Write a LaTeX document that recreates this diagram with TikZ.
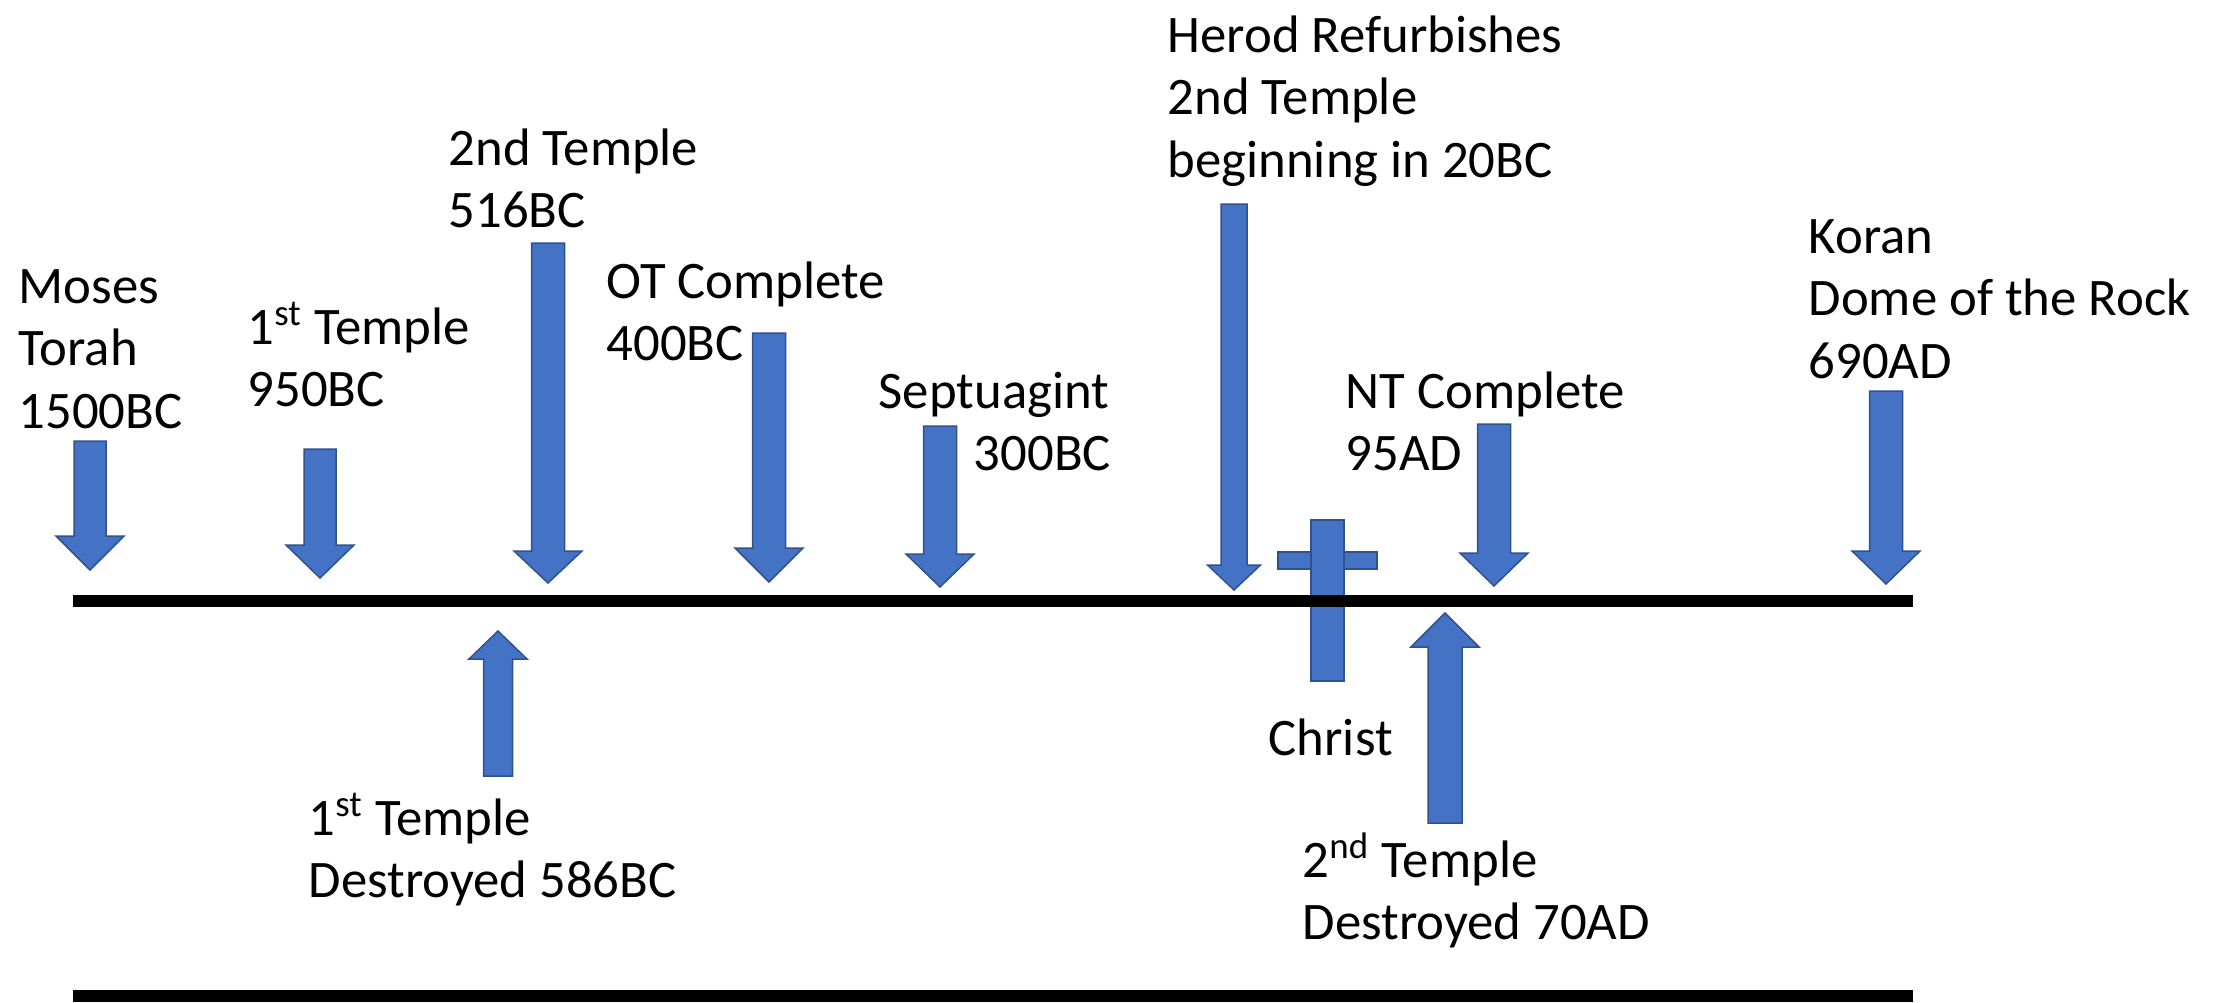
\documentclass[tikz,border=0pt]{standalone}
\usepackage{fontspec}
\setmainfont{Carlito}
\definecolor{arrfill}{HTML}{4472C4}
\definecolor{arredge}{HTML}{2F528F}
\newcommand{\lbltab}[1]{\begin{tabular}[t]{@{}l@{}}#1\end{tabular}}
% block arrow: cx, shaft end y, head base y, tip y, shaft half width, head half width
\newcommand{\blockarrow}[6]{%
  \filldraw[arrshape] ({#1-#5},#2) -- ({#1+#5},#2) -- ({#1+#5},#3) -- ({#1+#6},#3)
    -- (#1,#4) -- ({#1-#6},#3) -- ({#1-#5},#3) -- cycle;}
\begin{document}
\begin{tikzpicture}[x=0.01cm,y=-0.01cm,
  arrshape/.style={fill=arrfill,draw=arredge,line width=0.015cm,line join=miter},
  lbl/.style={anchor=base west,inner sep=0pt,font=\fontsize{15pt}{17.9pt}\selectfont},
  axis/.style={line width=0.12cm,black}]
\useasboundingbox (0,0) rectangle (2215,1002);

% down arrows
\blockarrow{90}{441}{536}{570}{16}{34}
\blockarrow{320}{449}{545}{578}{16}{34}
\blockarrow{548}{243}{551}{583}{16.5}{34}
\blockarrow{769}{333}{548}{582}{16.5}{34}
\blockarrow{940}{426}{554}{587}{16.5}{34}
\blockarrow{1234}{204}{565}{590}{13}{26.5}
\blockarrow{1494}{424}{553}{586}{16.5}{34}
\blockarrow{1886}{391}{551}{584}{16.5}{34}
% up arrows
\blockarrow{498}{776}{659}{631}{14.5}{29}
\blockarrow{1445}{823}{647}{613}{17}{34}

% cross
\filldraw[arrshape] (1278,552) rectangle (1377,569);
\filldraw[arrshape] (1311,520) rectangle (1344,681);

% timeline axes
\coordinate (a1) at (73,601);
\coordinate (a2) at (1913,601);
\coordinate (b1) at (73,996);
\coordinate (b2) at (1913,996);
\draw[axis] (a1) -- (a2);
\draw[axis] (b1) -- (b2);

% labels
\node[lbl] (moses) at (18,303) {\lbltab{Moses\\Torah\\1500BC}};
\node[lbl] (t1) at (247,344) {\lbltab{1\textsuperscript{st} Temple\\950BC}};
\node[lbl] (t2) at (448,165) {\lbltab{2nd Temple\\516BC}};
\node[lbl] (ot) at (606,298) {\lbltab{OT Complete\\400BC}};
\node[lbl] (sept) at (878,408) {\lbltab{Septuagint\\\hspace*{0.95cm}300BC}};
\node[lbl] (herod) at (1167,52) {\lbltab{Herod Refurbishes\\2nd Temple\\beginning in 20BC}};
\node[lbl] (nt) at (1345,408) {\lbltab{NT Complete\\95AD}};
\node[lbl] (koran) at (1808,253) {\lbltab{Koran\\Dome of the Rock\\690AD}};
\node[lbl] (t1d) at (308,835) {\lbltab{1\textsuperscript{st} Temple\\Destroyed 586BC}};
\node[lbl] (christ) at (1268,755) {Christ};
\node[lbl] (t2d) at (1302,877) {\lbltab{2\textsuperscript{nd} Temple\\Destroyed 70AD}};
\end{tikzpicture}
\end{document}
